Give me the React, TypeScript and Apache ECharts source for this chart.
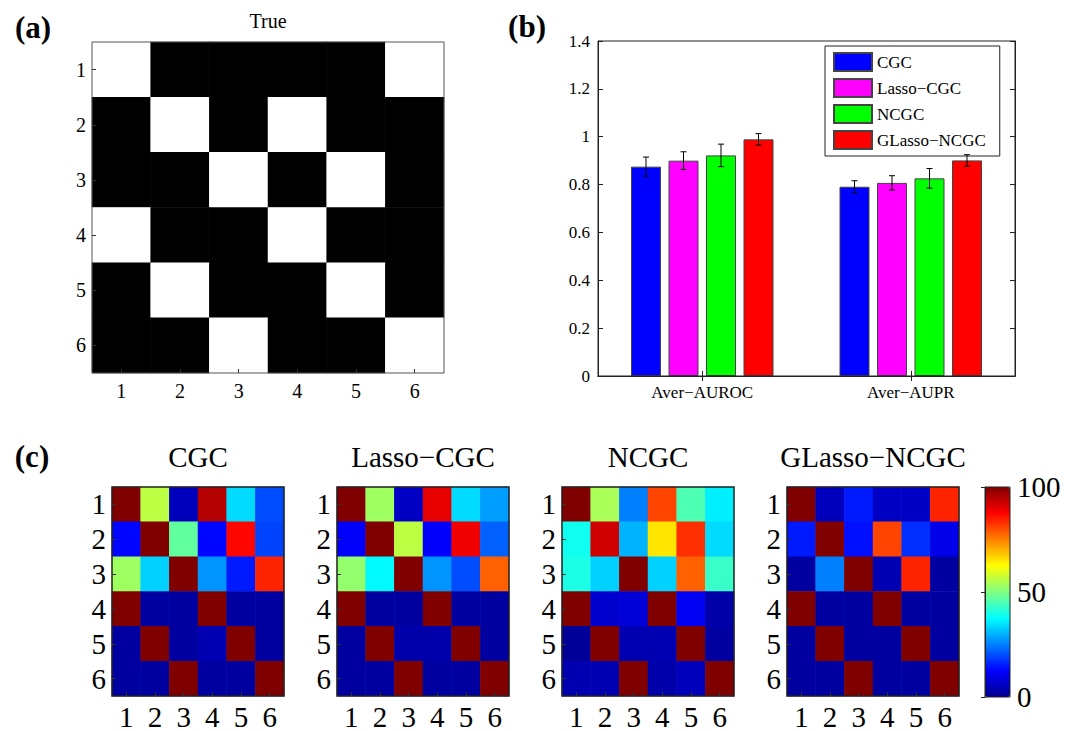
import React, { useEffect, useRef } from 'react';
import * as echarts from 'echarts';

// ---------- data ----------
const idxLabels = ['1', '2', '3', '4', '5', '6'];

const trueMatrix = [
  [1, 0, 0, 0, 0, 1],
  [0, 1, 0, 1, 0, 0],
  [0, 0, 1, 0, 1, 0],
  [1, 0, 0, 1, 0, 0],
  [0, 1, 0, 0, 1, 0],
  [0, 0, 1, 0, 0, 1],
];

const methods = ['CGC', 'Lasso−CGC', 'NCGC', 'GLasso−NCGC'];
const metrics = ['Aver−AUROC', 'Aver−AUPR'];

const cgcMeans = [0.875, 0.791];
const lassoCgcMeans = [0.9, 0.807];
const ncgcMeans = [0.922, 0.826];
const glassoNcgcMeans = [0.989, 0.901];

const cgcErr = [0.04, 0.025];
const lassoCgcErr = [0.037, 0.03];
const ncgcErr = [0.047, 0.041];
const glassoNcgcErr = [0.024, 0.024];

const cgcMatrix = [
  [100, 56, 5, 95, 34, 20],
  [13, 100, 47, 13, 87, 19],
  [53, 33, 100, 27, 15, 84],
  [100, 2, 2, 100, 2, 2],
  [2, 100, 2, 4, 100, 2],
  [2, 2, 100, 2, 2, 100],
];
const lassoCgcMatrix = [
  [100, 53, 6, 90, 34, 28],
  [12, 100, 56, 12, 89, 22],
  [52, 37, 100, 27, 20, 78],
  [100, 2, 2, 100, 2, 2],
  [2, 100, 3, 3, 100, 2],
  [2, 2, 100, 2, 2, 100],
];
const ncgcMatrix = [
  [100, 54, 25, 81, 45, 36],
  [39, 92, 30, 65, 83, 34],
  [40, 33, 100, 33, 78, 43],
  [100, 7, 8, 100, 11, 3],
  [1, 100, 4, 4, 100, 2],
  [4, 4, 100, 3, 5, 100],
];
const glassoNcgcMatrix = [
  [100, 5, 15, 6, 6, 84],
  [15, 100, 14, 81, 17, 10],
  [2, 25, 100, 4, 84, 2],
  [100, 2, 2, 100, 2, 2],
  [2, 100, 2, 2, 100, 2],
  [2, 2, 100, 2, 2, 100],
];

const colorbarTicks = [0, 50, 100];

// ---------- styling ----------
const FONT = '"Liberation Serif", "Times New Roman", "DejaVu Serif", serif';
const barColors = ['#0000ff', '#ff00ff', '#00ff00', '#ff0000'];
const JET = ['#00008f', '#0000ff', '#0080ff', '#00ffff', '#80ff80', '#ffff00', '#ff8000', '#ff0000', '#800000'];
const BAR_W = 30;
const BAR_GAP = 7.5;

const toCells = (m: number[][]) => m.flatMap((row, r) => row.map((v, c) => [c, r, v]));

export default function App() {
  const ref = useRef<HTMLDivElement>(null);

  useEffect(() => {
    if (!ref.current) return;
    const chart = echarts.init(ref.current, null, { renderer: 'svg' });

    const meansByMethod = [cgcMeans, lassoCgcMeans, ncgcMeans, glassoNcgcMeans];
    const errByMethod = [cgcErr, lassoCgcErr, ncgcErr, glassoNcgcErr];
    const errorData = methods.flatMap((_, m) =>
      metrics.map((__, c) => [c, meansByMethod[m][c] - errByMethod[m][c], meansByMethod[m][c] + errByMethod[m][c], m])
    );

    const heatMatrices = [cgcMatrix, lassoCgcMatrix, ncgcMatrix, glassoNcgcMatrix];
    const heatLefts = [112, 337, 562, 787];

    const frame = { show: true, borderColor: '#222', borderWidth: 1, backgroundColor: 'transparent', z: 5 };

    const grids: any[] = [
      { left: 92, top: 42, width: 352, height: 331, ...frame, borderColor: '#555' },
      { left: 598, top: 41, width: 417, height: 335, ...frame },
      ...heatLefts.map((l) => ({ left: l, top: 487, width: 172, height: 210, ...frame, borderWidth: 1.5 })),
      { left: 985, top: 487, width: 25, height: 210, ...frame, z: 10 },
    ];

    const catAxisBase = (gridIndex: number, fontSize: number, margin: number) => ({
      type: 'category',
      gridIndex,
      data: idxLabels,
      axisLine: { show: false },
      axisTick: { show: true, inside: true, alignWithLabel: true, interval: 0, length: 4, lineStyle: { color: '#333' } },
      axisLabel: { fontFamily: FONT, fontSize, color: '#000', margin, interval: 0 },
      splitLine: { show: false },
      z: 6,
    });

    const xAxes: any[] = [
      { ...catAxisBase(0, 20, 8) },
      {
        type: 'category', gridIndex: 1, data: metrics,
        axisLine: { show: true, lineStyle: { color: '#222' } },
        axisTick: { show: true, inside: true, alignWithLabel: true, length: 5, lineStyle: { color: '#222' } },
        axisLabel: { fontFamily: FONT, fontSize: 17, color: '#000', margin: 8, interval: 0 },
      },
      {
        type: 'category', gridIndex: 1, data: metrics, position: 'top',
        axisLine: { show: true, lineStyle: { color: '#222' } },
        axisTick: { show: true, inside: true, alignWithLabel: true, length: 5, lineStyle: { color: '#222' } },
        axisLabel: { show: false },
      },
      ...heatLefts.map((_, i) => ({ ...catAxisBase(2 + i, 29, 6) })),
      { type: 'value', gridIndex: 6, show: false, min: 0, max: 1 },
    ];

    const yAxes: any[] = [
      { ...catAxisBase(0, 20, 6), inverse: true },
      {
        type: 'value', gridIndex: 1, min: 0, max: 1.4, interval: 0.2,
        axisLine: { show: true, lineStyle: { color: '#222' } },
        axisTick: { show: true, inside: true, length: 5, lineStyle: { color: '#222' } },
        axisLabel: { fontFamily: FONT, fontSize: 17, color: '#000', margin: 8 },
        splitLine: { show: false },
      },
      {
        type: 'value', gridIndex: 1, min: 0, max: 1.4, interval: 0.2, position: 'right',
        axisLine: { show: true, lineStyle: { color: '#222' } },
        axisTick: { show: true, inside: true, length: 5, lineStyle: { color: '#222' } },
        axisLabel: { show: false },
        splitLine: { show: false },
      },
      ...heatLefts.map((_, i) => ({ ...catAxisBase(2 + i, 29, 6), inverse: true })),
      {
        type: 'value', gridIndex: 6, min: 0, max: 100, interval: 50, position: 'right',
        data: colorbarTicks,
        axisLine: { show: true, lineStyle: { color: '#222' } },
        axisTick: { show: true, inside: true, length: 4, lineStyle: { color: '#222' } },
        axisLabel: { fontFamily: FONT, fontSize: 29, color: '#000', margin: 7 },
        splitLine: { show: false },
        z: 12,
      },
    ];

    const series: any[] = [
      {
        type: 'heatmap', xAxisIndex: 0, yAxisIndex: 0, data: toCells(trueMatrix),
        itemStyle: { borderWidth: 0 }, emphasis: { disabled: true },
      },
      ...methods.map((name, m) => ({
        type: 'bar', name, xAxisIndex: 1, yAxisIndex: 1,
        data: meansByMethod[m],
        barWidth: BAR_W, barGap: `${(BAR_GAP / BAR_W) * 100}%`,
        itemStyle: { color: barColors[m], borderColor: '#444', borderWidth: 1 },
      })),
      {
        type: 'custom', name: 'err', xAxisIndex: 1, yAxisIndex: 1, z: 5,
        data: errorData,
        encode: { x: 0, y: [1, 2] },
        renderItem: (params: any, api: any) => {
          const c = api.value(0);
          const lo = api.coord([c, api.value(1)]);
          const hi = api.coord([c, api.value(2)]);
          const x = lo[0] + (api.value(3) - 1.5) * (BAR_W + BAR_GAP);
          const cap = 3;
          const st = { stroke: '#000', lineWidth: 1 };
          return {
            type: 'group',
            children: [
              { type: 'line', shape: { x1: x, y1: hi[1], x2: x, y2: lo[1] }, style: st },
              { type: 'line', shape: { x1: x - cap, y1: hi[1], x2: x + cap, y2: hi[1] }, style: st },
              { type: 'line', shape: { x1: x - cap, y1: lo[1], x2: x + cap, y2: lo[1] }, style: st },
            ],
          };
        },
      },
      ...heatMatrices.map((mat, i) => ({
        type: 'heatmap', xAxisIndex: 2 + i + 1, yAxisIndex: 2 + i + 1, data: toCells(mat),
        itemStyle: { borderWidth: 0 }, emphasis: { disabled: true },
      })),
    ];

    const titleFont = `29px ${FONT}`;
    const graphic: any[] = [
      { type: 'text', x: 33, y: 27, style: { text: '(a)', font: `bold 31px ${FONT}`, fill: '#000', align: 'center', verticalAlign: 'middle' } },
      { type: 'text', x: 527, y: 26, style: { text: '(b)', font: `bold 31px ${FONT}`, fill: '#000', align: 'center', verticalAlign: 'middle' } },
      { type: 'text', x: 32, y: 456, style: { text: '(c)', font: `bold 31px ${FONT}`, fill: '#000', align: 'center', verticalAlign: 'middle' } },
      { type: 'text', x: 268, y: 21, style: { text: 'True', font: `20px ${FONT}`, fill: '#000', align: 'center', verticalAlign: 'middle' } },
      ...methods.map((name, i) => ({
        type: 'text', x: heatLefts[i] + 86, y: 457,
        style: { text: name, font: titleFont, fill: '#000', align: 'center', verticalAlign: 'middle' },
      })),
    ];

    chart.setOption({
      animation: false,
      backgroundColor: '#fff',
      grid: grids,
      xAxis: xAxes,
      yAxis: yAxes,
      series,
      legend: {
        data: methods,
        orient: 'vertical',
        left: 825,
        top: 46,
        icon: 'rect',
        itemWidth: 38,
        itemHeight: 18,
        itemGap: 6,
        padding: [6, 14, 6, 8],
        borderColor: '#222',
        borderWidth: 1,
        backgroundColor: '#fff',
        textStyle: { fontFamily: FONT, fontSize: 17, color: '#000' },
        selectedMode: false,
      },
      visualMap: [
        {
          type: 'continuous', seriesIndex: 0, min: 0, max: 1, show: false,
          inRange: { color: ['#000000', '#ffffff'] },
        },
        {
          type: 'continuous', seriesIndex: [6, 7, 8, 9], min: 0, max: 100,
          show: true, calculable: false, orient: 'vertical',
          left: 985, top: 487, itemWidth: 25, itemHeight: 210, padding: 0,
          inRange: { color: JET },
          hoverLink: false,
        },
      ],
      graphic,
    });

    return () => chart.dispose();
  }, []);

  return <div ref={ref} style={{ position: 'fixed', left: 0, top: 0, width: 1075, height: 731 }} />;
}
